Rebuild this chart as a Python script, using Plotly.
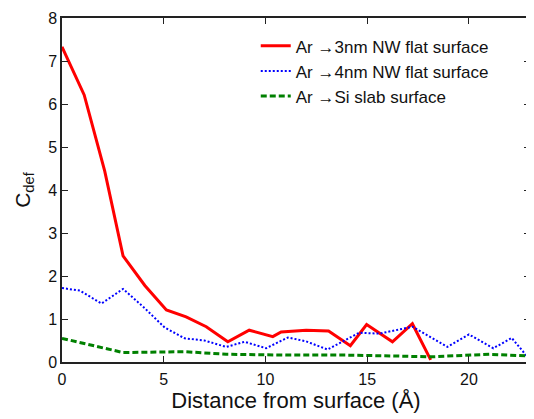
import plotly.graph_objects as go

x_3nm = [0, 1.09, 2.1, 3.0, 4.07, 5.13, 6.1, 7.09, 8.15, 9.2, 10.36, 10.77, 12.0, 13.1, 14.17, 14.97, 16.24, 17.22, 18.12]
y_3nm = [7.33, 6.21, 4.44, 2.47, 1.78, 1.21, 1.05, 0.82, 0.47, 0.74, 0.59, 0.70, 0.74, 0.72, 0.38, 0.87, 0.47, 0.89, 0.05]

x_4nm = [0, 0.88, 1.94, 3.0, 4.0, 5.05, 6.03, 7.0, 8.07, 8.97, 10.03, 11.1, 12.0, 13.05, 14.6, 15.6, 17.22, 18.94, 20.0, 21.2, 22.1, 23.0]
y_4nm = [1.72, 1.66, 1.36, 1.70, 1.28, 0.80, 0.55, 0.50, 0.35, 0.47, 0.32, 0.57, 0.48, 0.29, 0.68, 0.66, 0.82, 0.35, 0.64, 0.32, 0.56, 0.05]

x_si = [0, 3.0, 6.03, 8.07, 11.1, 14.0, 16.3, 18.1, 20.1, 21.0, 23.0]
y_si = [0.55, 0.22, 0.24, 0.18, 0.16, 0.16, 0.14, 0.12, 0.16, 0.18, 0.14]

names = ["Ar \u21923nm NW flat surface", "Ar \u21924nm NW flat surface", "Ar \u2192Si slab surface"]

fig = go.Figure()
fig.add_trace(go.Scatter(x=x_3nm, y=y_3nm, mode="lines", name=names[0],
                         line=dict(color="#ff0000", width=3)))
fig.add_trace(go.Scatter(x=x_4nm, y=y_4nm, mode="lines", name=names[1],
                         line=dict(color="#0000ff", width=2, dash="2px,2px")))
fig.add_trace(go.Scatter(x=x_si, y=y_si, mode="lines", name=names[2],
                         line=dict(color="#008000", width=3, dash="6px,3px")))

axis_style = dict(showline=True, linecolor="#222222", linewidth=1.5, mirror="ticks",
                  ticks="inside", ticklen=6, tickcolor="#222222", showgrid=False,
                  zeroline=False, ticklabeloverflow="allow",
                  tickfont=dict(size=16, color="#111111"))

# page body adds ~8px offset; size and margins keep the plot box where the reference has it
fig.update_layout(
    width=526, height=411,
    margin=dict(l=54, r=2, t=8, b=57),
    paper_bgcolor="white", plot_bgcolor="white",
    font=dict(family="Liberation Sans, Arial, sans-serif", color="#111111"),
    xaxis=dict(range=[0, 23], tickvals=[0, 5, 10, 15, 20], ticklabelstandoff=2,
               title=dict(text="Distance from surface (\u00c5)", font=dict(size=22), standoff=0),
               **axis_style),
    yaxis=dict(range=[0, 8], dtick=1,
               title=dict(text="C<sub>def</sub>", font=dict(size=21), standoff=12),
               **axis_style),
    legend=dict(x=0.414, y=0.97, xanchor="left", yanchor="top",
                bgcolor="rgba(0,0,0,0)", font=dict(size=17)),
)

fig.write_html("out.html")
